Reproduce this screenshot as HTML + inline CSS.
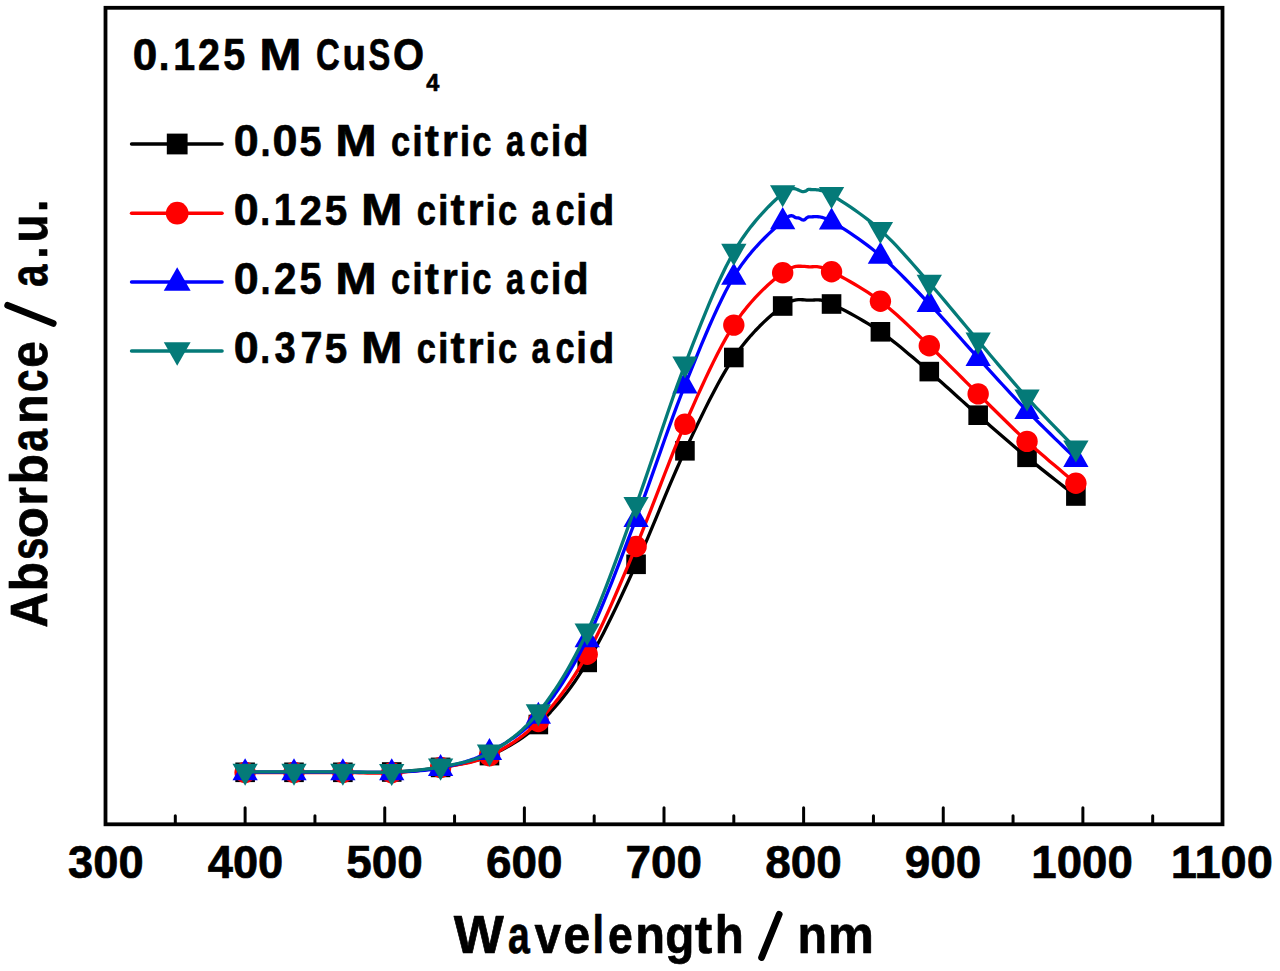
<!DOCTYPE html>
<html><head><meta charset="utf-8"><title>Absorbance spectra</title>
<style>html,body{margin:0;padding:0;background:#fff;overflow:hidden;} svg{display:block;} text{font-family:"Liberation Sans", sans-serif;font-weight:bold;fill:#000;stroke:#000;stroke-width:0.7px;stroke-linejoin:round;}</style>
</head><body>
<svg width="1280" height="971" viewBox="0 0 1280 971">
<rect width="1280" height="971" fill="#fff"/>
<path d="M245.12,772.30 L247.49,772.30 L250.44,772.30 L253.91,772.30 L257.79,772.30 L262.02,772.30 L266.51,772.30 L271.16,772.30 L275.89,772.30 L280.63,772.30 L285.28,772.30 L289.77,772.30 L293.99,772.30 L298.07,772.30 L302.14,772.30 L306.21,772.31 L310.28,772.31 L314.36,772.32 L318.43,772.32 L322.50,772.32 L326.57,772.32 L330.65,772.32 L334.72,772.32 L338.79,772.31 L342.86,772.30 L346.93,772.30 L351.01,772.32 L355.08,772.35 L359.15,772.38 L363.22,772.41 L367.30,772.44 L371.37,772.45 L375.44,772.43 L379.51,772.38 L383.59,772.30 L387.66,772.18 L391.73,772.00 L395.80,771.79 L399.88,771.57 L403.95,771.32 L408.02,771.05 L412.09,770.75 L416.17,770.42 L420.24,770.04 L424.31,769.63 L428.38,769.16 L432.46,768.63 L436.53,768.05 L440.60,767.40 L444.67,766.73 L448.74,766.07 L452.82,765.41 L456.89,764.71 L460.96,763.97 L465.03,763.16 L469.11,762.25 L473.18,761.23 L477.25,760.08 L481.32,758.77 L485.40,757.28 L489.47,755.60 L493.54,753.78 L497.61,751.89 L501.69,749.91 L505.76,747.81 L509.83,745.58 L513.90,743.19 L517.98,740.63 L522.05,737.88 L526.12,734.91 L530.19,731.70 L534.27,728.24 L538.34,724.50 L542.41,720.52 L546.48,716.36 L550.55,712.00 L554.63,707.43 L558.70,702.65 L562.77,697.64 L566.84,692.40 L570.92,686.91 L574.99,681.18 L579.06,675.19 L583.13,668.93 L587.21,662.40 L591.28,655.53 L595.35,648.31 L599.42,640.77 L603.50,632.94 L607.57,624.86 L611.64,616.56 L615.71,608.09 L619.79,599.47 L623.86,590.75 L627.93,581.96 L632.00,573.13 L636.08,564.30 L640.15,555.32 L644.22,546.04 L648.29,536.53 L652.36,526.86 L656.44,517.08 L660.51,507.25 L664.58,497.44 L668.65,487.71 L672.73,478.12 L676.80,468.73 L680.87,459.60 L684.94,450.80 L689.02,442.18 L693.09,433.60 L697.16,425.08 L701.23,416.66 L705.31,408.38 L709.38,400.28 L713.45,392.39 L717.52,384.76 L721.60,377.41 L725.67,370.40 L729.74,363.75 L733.81,357.50 L737.95,351.60 L742.20,345.97 L746.52,340.61 L750.88,335.54 L755.23,330.76 L759.56,326.28 L763.80,322.10 L767.94,318.23 L771.94,314.68 L775.75,311.45 L779.34,308.56 L782.68,306.00 L785.76,303.89 L788.63,302.28 L791.30,301.11 L793.80,300.33 L796.15,299.86 L798.39,299.64 L800.53,299.62 L802.59,299.73 L804.61,299.90 L806.60,300.08 L808.59,300.20 L810.61,300.20 L812.51,300.10 L814.18,300.00 L815.68,299.91 L817.07,299.87 L818.41,299.89 L819.77,300.00 L821.20,300.23 L822.76,300.60 L824.51,301.14 L826.52,301.87 L828.85,302.81 L831.55,304.00 L834.64,305.44 L838.08,307.11 L841.80,308.98 L845.77,311.04 L849.93,313.27 L854.24,315.65 L858.64,318.15 L863.09,320.76 L867.55,323.44 L871.95,326.19 L876.26,328.99 L880.42,331.80 L884.49,334.68 L888.56,337.69 L892.64,340.82 L896.71,344.04 L900.78,347.34 L904.85,350.71 L908.93,354.14 L913.00,357.61 L917.07,361.10 L921.14,364.61 L925.22,368.11 L929.29,371.60 L933.36,375.11 L937.43,378.66 L941.50,382.27 L945.58,385.91 L949.65,389.57 L953.72,393.26 L957.79,396.95 L961.87,400.64 L965.94,404.32 L970.01,407.98 L974.08,411.61 L978.16,415.20 L982.23,418.77 L986.30,422.34 L990.37,425.91 L994.45,429.47 L998.52,433.02 L1002.59,436.56 L1006.66,440.08 L1010.74,443.57 L1014.81,447.05 L1018.88,450.50 L1022.95,453.92 L1027.03,457.30 L1031.25,460.77 L1035.74,464.39 L1040.39,468.12 L1045.12,471.89 L1049.86,475.63 L1054.51,479.28 L1059.00,482.79 L1063.22,486.09 L1067.11,489.13 L1070.58,491.83 L1073.53,494.14 L1075.89,496.00" fill="none" stroke="#000" stroke-width="3.3" stroke-linejoin="round"/>
<rect x="235.32" y="762.50" width="19.60" height="19.60" fill="#000"/>
<rect x="284.19" y="762.50" width="19.60" height="19.60" fill="#000"/>
<rect x="333.06" y="762.50" width="19.60" height="19.60" fill="#000"/>
<rect x="381.93" y="762.20" width="19.60" height="19.60" fill="#000"/>
<rect x="430.80" y="757.60" width="19.60" height="19.60" fill="#000"/>
<rect x="479.67" y="745.80" width="19.60" height="19.60" fill="#000"/>
<rect x="528.54" y="714.70" width="19.60" height="19.60" fill="#000"/>
<rect x="577.41" y="652.60" width="19.60" height="19.60" fill="#000"/>
<rect x="626.28" y="554.50" width="19.60" height="19.60" fill="#000"/>
<rect x="675.14" y="441.00" width="19.60" height="19.60" fill="#000"/>
<rect x="724.01" y="347.70" width="19.60" height="19.60" fill="#000"/>
<rect x="772.88" y="296.20" width="19.60" height="19.60" fill="#000"/>
<rect x="821.75" y="294.20" width="19.60" height="19.60" fill="#000"/>
<rect x="870.62" y="322.00" width="19.60" height="19.60" fill="#000"/>
<rect x="919.49" y="361.80" width="19.60" height="19.60" fill="#000"/>
<rect x="968.36" y="405.40" width="19.60" height="19.60" fill="#000"/>
<rect x="1017.23" y="447.50" width="19.60" height="19.60" fill="#000"/>
<rect x="1066.09" y="486.20" width="19.60" height="19.60" fill="#000"/>
<path d="M245.12,772.50 L247.49,772.50 L250.44,772.50 L253.91,772.50 L257.79,772.50 L262.02,772.50 L266.51,772.50 L271.16,772.50 L275.89,772.50 L280.63,772.50 L285.28,772.50 L289.77,772.50 L293.99,772.50 L298.07,772.50 L302.14,772.50 L306.21,772.49 L310.28,772.49 L314.36,772.48 L318.43,772.48 L322.50,772.48 L326.57,772.48 L330.65,772.48 L334.72,772.48 L338.79,772.49 L342.86,772.50 L346.93,772.53 L351.01,772.60 L355.08,772.69 L359.15,772.79 L363.22,772.89 L367.30,772.98 L371.37,773.06 L375.44,773.10 L379.51,773.11 L383.59,773.07 L387.66,772.97 L391.73,772.80 L395.80,772.58 L399.88,772.32 L403.95,772.02 L408.02,771.69 L412.09,771.32 L416.17,770.91 L420.24,770.45 L424.31,769.96 L428.38,769.41 L432.46,768.82 L436.53,768.19 L440.60,767.50 L444.67,766.82 L448.74,766.17 L452.82,765.53 L456.89,764.88 L460.96,764.18 L465.03,763.41 L469.11,762.53 L473.18,761.53 L477.25,760.38 L481.32,759.04 L485.40,757.49 L489.47,755.70 L493.54,753.74 L497.61,751.68 L501.69,749.50 L505.76,747.18 L509.83,744.71 L513.90,742.06 L517.98,739.22 L522.05,736.17 L526.12,732.90 L530.19,729.37 L534.27,725.58 L538.34,721.50 L542.41,717.18 L546.48,712.68 L550.55,707.97 L554.63,703.05 L558.70,697.90 L562.77,692.50 L566.84,686.85 L570.92,680.93 L574.99,674.73 L579.06,668.23 L583.13,661.43 L587.21,654.30 L591.28,646.78 L595.35,638.85 L599.42,630.54 L603.50,621.91 L607.57,613.00 L611.64,603.84 L615.71,594.50 L619.79,585.01 L623.86,575.42 L627.93,565.78 L632.00,556.12 L636.08,546.50 L640.15,536.74 L644.22,526.69 L648.29,516.40 L652.36,505.95 L656.44,495.39 L660.51,484.81 L664.58,474.25 L668.65,463.79 L672.73,453.48 L676.80,443.41 L680.87,433.63 L684.94,424.20 L689.02,414.98 L693.09,405.80 L697.16,396.70 L701.23,387.71 L705.31,378.89 L709.38,370.27 L713.45,361.90 L717.52,353.81 L721.60,346.04 L725.67,338.64 L729.74,331.65 L733.81,325.10 L737.95,318.96 L742.20,313.14 L746.52,307.65 L750.88,302.49 L755.23,297.65 L759.56,293.13 L763.80,288.94 L767.94,285.07 L771.94,281.52 L775.75,278.30 L779.34,275.39 L782.68,272.80 L785.76,270.64 L788.63,268.99 L791.30,267.79 L793.80,266.97 L796.15,266.47 L798.39,266.23 L800.53,266.18 L802.59,266.28 L804.61,266.45 L806.60,266.63 L808.59,266.77 L810.61,266.80 L812.51,266.75 L814.18,266.70 L815.68,266.68 L817.07,266.71 L818.41,266.82 L819.77,267.03 L821.20,267.36 L822.76,267.84 L824.51,268.49 L826.52,269.33 L828.85,270.40 L831.55,271.70 L834.64,273.25 L838.08,275.02 L841.80,276.99 L845.77,279.16 L849.93,281.49 L854.24,283.97 L858.64,286.60 L863.09,289.34 L867.55,292.19 L871.95,295.13 L876.26,298.14 L880.42,301.20 L884.49,304.37 L888.56,307.71 L892.64,311.18 L896.71,314.79 L900.78,318.49 L904.85,322.28 L908.93,326.14 L913.00,330.04 L917.07,333.96 L921.14,337.90 L925.22,341.81 L929.29,345.70 L933.36,349.59 L937.43,353.53 L941.50,357.51 L945.58,361.52 L949.65,365.56 L953.72,369.61 L957.79,373.68 L961.87,377.75 L965.94,381.81 L970.01,385.86 L974.08,389.90 L978.16,393.90 L982.23,397.90 L986.30,401.92 L990.37,405.96 L994.45,409.99 L998.52,414.02 L1002.59,418.04 L1006.66,422.04 L1010.74,426.01 L1014.81,429.94 L1018.88,433.82 L1022.95,437.64 L1027.03,441.40 L1031.25,445.22 L1035.74,449.19 L1040.39,453.25 L1045.12,457.33 L1049.86,461.38 L1054.51,465.32 L1059.00,469.10 L1063.22,472.64 L1067.11,475.90 L1070.58,478.81 L1073.53,481.29 L1075.89,483.30" fill="none" stroke="#ff0000" stroke-width="3.3" stroke-linejoin="round"/>
<circle cx="245.12" cy="772.50" r="10.70" fill="#ff0000"/>
<circle cx="293.99" cy="772.50" r="10.70" fill="#ff0000"/>
<circle cx="342.86" cy="772.50" r="10.70" fill="#ff0000"/>
<circle cx="391.73" cy="772.80" r="10.70" fill="#ff0000"/>
<circle cx="440.60" cy="767.50" r="10.70" fill="#ff0000"/>
<circle cx="489.47" cy="755.70" r="10.70" fill="#ff0000"/>
<circle cx="538.34" cy="721.50" r="10.70" fill="#ff0000"/>
<circle cx="587.21" cy="654.30" r="10.70" fill="#ff0000"/>
<circle cx="636.08" cy="546.50" r="10.70" fill="#ff0000"/>
<circle cx="684.94" cy="424.20" r="10.70" fill="#ff0000"/>
<circle cx="733.81" cy="325.10" r="10.70" fill="#ff0000"/>
<circle cx="782.68" cy="272.80" r="10.70" fill="#ff0000"/>
<circle cx="831.55" cy="271.70" r="10.70" fill="#ff0000"/>
<circle cx="880.42" cy="301.20" r="10.70" fill="#ff0000"/>
<circle cx="929.29" cy="345.70" r="10.70" fill="#ff0000"/>
<circle cx="978.16" cy="393.90" r="10.70" fill="#ff0000"/>
<circle cx="1027.03" cy="441.40" r="10.70" fill="#ff0000"/>
<circle cx="1075.89" cy="483.30" r="10.70" fill="#ff0000"/>
<path d="M245.12,772.10 L247.49,772.10 L250.44,772.10 L253.91,772.10 L257.79,772.10 L262.02,772.10 L266.51,772.10 L271.16,772.10 L275.89,772.10 L280.63,772.10 L285.28,772.10 L289.77,772.10 L293.99,772.10 L298.07,772.10 L302.14,772.10 L306.21,772.10 L310.28,772.10 L314.36,772.10 L318.43,772.10 L322.50,772.10 L326.57,772.10 L330.65,772.10 L334.72,772.10 L338.79,772.10 L342.86,772.10 L346.93,772.11 L351.01,772.15 L355.08,772.20 L359.15,772.26 L363.22,772.31 L367.30,772.36 L371.37,772.40 L375.44,772.41 L379.51,772.40 L383.59,772.34 L387.66,772.25 L391.73,772.10 L395.80,771.93 L399.88,771.78 L403.95,771.62 L408.02,771.45 L412.09,771.25 L416.17,771.00 L420.24,770.70 L424.31,770.33 L428.38,769.88 L432.46,769.33 L436.53,768.68 L440.60,767.90 L444.67,767.04 L448.74,766.15 L452.82,765.21 L456.89,764.19 L460.96,763.10 L465.03,761.91 L469.11,760.60 L473.18,759.17 L477.25,757.60 L481.32,755.88 L485.40,753.98 L489.47,751.90 L493.54,749.71 L497.61,747.49 L501.69,745.20 L505.76,742.80 L509.83,740.25 L513.90,737.54 L517.98,734.61 L522.05,731.44 L526.12,727.98 L530.19,724.22 L534.27,720.10 L538.34,715.60 L542.41,710.77 L546.48,705.67 L550.55,700.30 L554.63,694.66 L558.70,688.74 L562.77,682.54 L566.84,676.04 L570.92,669.25 L574.99,662.15 L579.06,654.75 L583.13,647.03 L587.21,639.00 L591.28,630.56 L595.35,621.66 L599.42,612.35 L603.50,602.69 L607.57,592.73 L611.64,582.52 L615.71,572.11 L619.79,561.55 L623.86,550.90 L627.93,540.21 L632.00,529.52 L636.08,518.90 L640.15,508.15 L644.22,497.11 L648.29,485.84 L652.36,474.41 L656.44,462.88 L660.51,451.33 L664.58,439.82 L668.65,428.41 L672.73,417.18 L676.80,406.19 L680.87,395.51 L684.94,385.20 L689.02,375.10 L693.09,365.03 L697.16,355.04 L701.23,345.18 L705.31,335.49 L709.38,326.02 L713.45,316.82 L717.52,307.94 L721.60,299.44 L725.67,291.34 L729.74,283.71 L733.81,276.60 L738.00,269.94 L742.36,263.66 L746.85,257.75 L751.39,252.20 L755.94,247.02 L760.43,242.21 L764.79,237.77 L768.98,233.69 L772.92,229.97 L776.56,226.62 L779.83,223.63 L782.68,221.00 L785.09,218.88 L787.11,217.37 L788.79,216.39 L790.18,215.85 L791.33,215.68 L792.28,215.79 L793.09,216.10 L793.80,216.53 L794.46,216.99 L795.12,217.41 L795.84,217.71 L796.64,217.80 L797.47,217.81 L798.21,217.92 L798.88,218.10 L799.49,218.33 L800.05,218.61 L800.57,218.90 L801.07,219.19 L801.56,219.47 L802.04,219.70 L802.54,219.88 L803.07,219.99 L803.62,220.00 L804.16,219.90 L804.63,219.69 L805.04,219.40 L805.43,219.04 L805.83,218.65 L806.24,218.25 L806.71,217.85 L807.24,217.49 L807.88,217.18 L808.63,216.94 L809.54,216.81 L810.61,216.80 L811.77,216.82 L812.97,216.77 L814.21,216.71 L815.52,216.66 L816.93,216.66 L818.46,216.76 L820.14,216.99 L821.98,217.39 L824.02,217.99 L826.28,218.83 L828.78,219.96 L831.55,221.40 L834.64,223.17 L838.08,225.22 L841.80,227.54 L845.77,230.09 L849.93,232.84 L854.24,235.78 L858.64,238.86 L863.09,242.07 L867.55,245.37 L871.95,248.75 L876.26,252.17 L880.42,255.60 L884.49,259.11 L888.56,262.75 L892.64,266.53 L896.71,270.41 L900.78,274.39 L904.85,278.46 L908.93,282.59 L913.00,286.78 L917.07,291.01 L921.14,295.26 L925.22,299.53 L929.29,303.80 L933.36,308.11 L937.43,312.49 L941.50,316.94 L945.58,321.44 L949.65,325.98 L953.72,330.56 L957.79,335.14 L961.87,339.74 L965.94,344.32 L970.01,348.88 L974.08,353.41 L978.16,357.90 L982.23,362.37 L986.30,366.84 L990.37,371.33 L994.45,375.81 L998.52,380.28 L1002.59,384.74 L1006.66,389.17 L1010.74,393.58 L1014.81,397.95 L1018.88,402.29 L1022.95,406.57 L1027.03,410.80 L1031.25,415.12 L1035.74,419.63 L1040.39,424.25 L1045.12,428.91 L1049.86,433.54 L1054.51,438.06 L1059.00,442.39 L1063.22,446.47 L1067.11,450.21 L1070.58,453.55 L1073.53,456.40 L1075.89,458.70" fill="none" stroke="#0000ff" stroke-width="3.3" stroke-linejoin="round"/>
<path d="M245.12,758.18 L257.77,780.28 L232.47,780.28Z" fill="#0000ff"/>
<path d="M293.99,758.18 L306.64,780.28 L281.34,780.28Z" fill="#0000ff"/>
<path d="M342.86,758.18 L355.51,780.28 L330.21,780.28Z" fill="#0000ff"/>
<path d="M391.73,758.18 L404.38,780.28 L379.08,780.28Z" fill="#0000ff"/>
<path d="M440.60,753.98 L453.25,776.08 L427.95,776.08Z" fill="#0000ff"/>
<path d="M489.47,737.98 L502.12,760.08 L476.82,760.08Z" fill="#0000ff"/>
<path d="M538.34,701.68 L550.99,723.78 L525.69,723.78Z" fill="#0000ff"/>
<path d="M587.21,625.08 L599.86,647.18 L574.56,647.18Z" fill="#0000ff"/>
<path d="M636.08,504.98 L648.73,527.08 L623.43,527.08Z" fill="#0000ff"/>
<path d="M684.94,371.28 L697.59,393.38 L672.29,393.38Z" fill="#0000ff"/>
<path d="M733.81,262.68 L746.46,284.78 L721.16,284.78Z" fill="#0000ff"/>
<path d="M782.68,207.08 L795.33,229.18 L770.03,229.18Z" fill="#0000ff"/>
<path d="M831.55,207.48 L844.20,229.58 L818.90,229.58Z" fill="#0000ff"/>
<path d="M880.42,241.68 L893.07,263.78 L867.77,263.78Z" fill="#0000ff"/>
<path d="M929.29,289.88 L941.94,311.98 L916.64,311.98Z" fill="#0000ff"/>
<path d="M978.16,343.98 L990.81,366.08 L965.51,366.08Z" fill="#0000ff"/>
<path d="M1027.03,396.88 L1039.68,418.98 L1014.38,418.98Z" fill="#0000ff"/>
<path d="M1075.89,444.78 L1088.54,466.88 L1063.24,466.88Z" fill="#0000ff"/>
<path d="M245.12,771.90 L247.49,771.90 L250.44,771.90 L253.91,771.90 L257.79,771.90 L262.02,771.90 L266.51,771.90 L271.16,771.90 L275.89,771.90 L280.63,771.90 L285.28,771.90 L289.77,771.90 L293.99,771.90 L298.07,771.90 L302.14,771.90 L306.21,771.90 L310.28,771.89 L314.36,771.89 L318.43,771.89 L322.50,771.89 L326.57,771.89 L330.65,771.89 L334.72,771.89 L338.79,771.89 L342.86,771.90 L346.93,771.93 L351.01,771.99 L355.08,772.06 L359.15,772.16 L363.22,772.25 L367.30,772.33 L371.37,772.40 L375.44,772.43 L379.51,772.43 L383.59,772.38 L387.66,772.28 L391.73,772.10 L395.80,771.88 L399.88,771.64 L403.95,771.37 L408.02,771.06 L412.09,770.72 L416.17,770.34 L420.24,769.90 L424.31,769.41 L428.38,768.87 L432.46,768.25 L436.53,767.56 L440.60,766.80 L444.67,766.02 L448.74,765.27 L452.82,764.53 L456.89,763.75 L460.96,762.92 L465.03,761.99 L469.11,760.94 L473.18,759.74 L477.25,758.35 L481.32,756.76 L485.40,754.92 L489.47,752.80 L493.54,750.49 L497.61,748.07 L501.69,745.52 L505.76,742.81 L509.83,739.92 L513.90,736.82 L517.98,733.49 L522.05,729.90 L526.12,726.03 L530.19,721.86 L534.27,717.36 L538.34,712.50 L542.41,707.34 L546.48,701.92 L550.55,696.24 L554.63,690.30 L558.70,684.07 L562.77,677.55 L566.84,670.73 L570.92,663.60 L574.99,656.16 L579.06,648.38 L583.13,640.26 L587.21,631.80 L591.28,622.90 L595.35,613.50 L599.42,603.68 L603.50,593.48 L607.57,582.96 L611.64,572.18 L615.71,561.19 L619.79,550.05 L623.86,538.82 L627.93,527.54 L632.00,516.28 L636.08,505.10 L640.15,493.79 L644.22,482.17 L648.29,470.31 L652.36,458.29 L656.44,446.17 L660.51,434.03 L664.58,421.93 L668.65,409.96 L672.73,398.17 L676.80,386.66 L680.87,375.47 L684.94,364.70 L689.02,354.17 L693.09,343.69 L697.16,333.31 L701.23,323.08 L705.31,313.04 L709.38,303.24 L713.45,293.72 L717.52,284.53 L721.60,275.72 L725.67,267.33 L729.74,259.41 L733.81,252.00 L737.97,245.04 L742.28,238.45 L746.68,232.21 L751.14,226.36 L755.59,220.87 L759.99,215.77 L764.30,211.05 L768.46,206.72 L772.43,202.79 L776.15,199.25 L779.59,196.12 L782.68,193.40 L785.45,191.26 L787.95,189.82 L790.21,188.96 L792.25,188.60 L794.09,188.64 L795.77,188.97 L797.30,189.50 L798.71,190.12 L800.03,190.74 L801.27,191.26 L802.46,191.58 L803.62,191.60 L804.65,191.41 L805.43,191.18 L806.02,190.92 L806.47,190.64 L806.82,190.36 L807.12,190.09 L807.41,189.84 L807.76,189.64 L808.21,189.49 L808.80,189.41 L809.58,189.41 L810.61,189.50 L811.77,189.60 L812.97,189.65 L814.21,189.67 L815.52,189.71 L816.93,189.80 L818.46,189.98 L820.14,190.29 L821.98,190.77 L824.02,191.45 L826.28,192.38 L828.78,193.58 L831.55,195.10 L834.64,196.93 L838.08,199.03 L841.80,201.37 L845.77,203.93 L849.93,206.70 L854.24,209.65 L858.64,212.77 L863.09,216.03 L867.55,219.41 L871.95,222.90 L876.26,226.47 L880.42,230.10 L884.49,233.86 L888.56,237.81 L892.64,241.93 L896.71,246.19 L900.78,250.58 L904.85,255.07 L908.93,259.64 L913.00,264.26 L917.07,268.92 L921.14,273.60 L925.22,278.26 L929.29,282.90 L933.36,287.55 L937.43,292.27 L941.50,297.04 L945.58,301.86 L949.65,306.72 L953.72,311.60 L957.79,316.49 L961.87,321.39 L965.94,326.28 L970.01,331.15 L974.08,336.00 L978.16,340.80 L982.23,345.59 L986.30,350.40 L990.37,355.21 L994.45,360.03 L998.52,364.84 L1002.59,369.63 L1006.66,374.40 L1010.74,379.14 L1014.81,383.83 L1018.88,388.48 L1022.95,393.07 L1027.03,397.60 L1031.25,402.22 L1035.74,407.03 L1040.39,411.95 L1045.12,416.92 L1049.86,421.84 L1054.51,426.65 L1059.00,431.26 L1063.22,435.59 L1067.11,439.57 L1070.58,443.12 L1073.53,446.15 L1075.89,448.60" fill="none" stroke="#047a78" stroke-width="3.3" stroke-linejoin="round"/>
<path d="M245.12,785.82 L257.77,763.72 L232.47,763.72Z" fill="#047a78"/>
<path d="M293.99,785.82 L306.64,763.72 L281.34,763.72Z" fill="#047a78"/>
<path d="M342.86,785.82 L355.51,763.72 L330.21,763.72Z" fill="#047a78"/>
<path d="M391.73,786.02 L404.38,763.92 L379.08,763.92Z" fill="#047a78"/>
<path d="M440.60,780.72 L453.25,758.62 L427.95,758.62Z" fill="#047a78"/>
<path d="M489.47,766.72 L502.12,744.62 L476.82,744.62Z" fill="#047a78"/>
<path d="M538.34,726.42 L550.99,704.32 L525.69,704.32Z" fill="#047a78"/>
<path d="M587.21,645.72 L599.86,623.62 L574.56,623.62Z" fill="#047a78"/>
<path d="M636.08,519.02 L648.73,496.92 L623.43,496.92Z" fill="#047a78"/>
<path d="M684.94,378.62 L697.59,356.52 L672.29,356.52Z" fill="#047a78"/>
<path d="M733.81,265.92 L746.46,243.82 L721.16,243.82Z" fill="#047a78"/>
<path d="M782.68,207.32 L795.33,185.22 L770.03,185.22Z" fill="#047a78"/>
<path d="M831.55,209.02 L844.20,186.92 L818.90,186.92Z" fill="#047a78"/>
<path d="M880.42,244.02 L893.07,221.92 L867.77,221.92Z" fill="#047a78"/>
<path d="M929.29,296.82 L941.94,274.72 L916.64,274.72Z" fill="#047a78"/>
<path d="M978.16,354.72 L990.81,332.62 L965.51,332.62Z" fill="#047a78"/>
<path d="M1027.03,411.52 L1039.68,389.42 L1014.38,389.42Z" fill="#047a78"/>
<path d="M1075.89,462.52 L1088.54,440.42 L1063.24,440.42Z" fill="#047a78"/>
<rect x="105.5" y="7.8" width="1117.0" height="816.5" fill="none" stroke="#000" stroke-width="3.8"/>
<line x1="175.31" y1="824.3" x2="175.31" y2="815.7" stroke="#000" stroke-width="3" stroke-linecap="round"/>
<line x1="245.12" y1="824.3" x2="245.12" y2="807.7" stroke="#000" stroke-width="3" stroke-linecap="round"/>
<line x1="314.94" y1="824.3" x2="314.94" y2="815.7" stroke="#000" stroke-width="3" stroke-linecap="round"/>
<line x1="384.75" y1="824.3" x2="384.75" y2="807.7" stroke="#000" stroke-width="3" stroke-linecap="round"/>
<line x1="454.56" y1="824.3" x2="454.56" y2="815.7" stroke="#000" stroke-width="3" stroke-linecap="round"/>
<line x1="524.38" y1="824.3" x2="524.38" y2="807.7" stroke="#000" stroke-width="3" stroke-linecap="round"/>
<line x1="594.19" y1="824.3" x2="594.19" y2="815.7" stroke="#000" stroke-width="3" stroke-linecap="round"/>
<line x1="664.00" y1="824.3" x2="664.00" y2="807.7" stroke="#000" stroke-width="3" stroke-linecap="round"/>
<line x1="733.81" y1="824.3" x2="733.81" y2="815.7" stroke="#000" stroke-width="3" stroke-linecap="round"/>
<line x1="803.62" y1="824.3" x2="803.62" y2="807.7" stroke="#000" stroke-width="3" stroke-linecap="round"/>
<line x1="873.44" y1="824.3" x2="873.44" y2="815.7" stroke="#000" stroke-width="3" stroke-linecap="round"/>
<line x1="943.25" y1="824.3" x2="943.25" y2="807.7" stroke="#000" stroke-width="3" stroke-linecap="round"/>
<line x1="1013.06" y1="824.3" x2="1013.06" y2="815.7" stroke="#000" stroke-width="3" stroke-linecap="round"/>
<line x1="1082.88" y1="824.3" x2="1082.88" y2="807.7" stroke="#000" stroke-width="3" stroke-linecap="round"/>
<line x1="1152.69" y1="824.3" x2="1152.69" y2="815.7" stroke="#000" stroke-width="3" stroke-linecap="round"/>
<line x1="131.6" y1="144.0" x2="222.0" y2="144.0" stroke="#000" stroke-width="3.6" stroke-linecap="round"/>
<rect x="166.81" y="133.61" width="20.78" height="20.78" fill="#000"/>
<line x1="131.6" y1="213.2" x2="222.0" y2="213.2" stroke="#ff0000" stroke-width="3.6" stroke-linecap="round"/>
<circle cx="177.20" cy="213.20" r="11.34" fill="#ff0000"/>
<line x1="131.6" y1="282.0" x2="222.0" y2="282.0" stroke="#0000ff" stroke-width="3.6" stroke-linecap="round"/>
<path d="M177.20,267.24 L190.61,290.67 L163.79,290.67Z" fill="#0000ff"/>
<line x1="131.6" y1="351.0" x2="222.0" y2="351.0" stroke="#047a78" stroke-width="3.6" stroke-linecap="round"/>
<path d="M177.20,365.76 L190.61,342.33 L163.79,342.33Z" fill="#047a78"/>
<text transform="matrix(0.9583,0,0,0.9735,132.64,70.43)" font-size="46">0</text>
<text transform="matrix(0.8333,0,0,0.9735,158.63,70.43)" font-size="46">.</text>
<text transform="matrix(0.8565,0,0,0.9735,173.19,70.43)" font-size="46">1</text>
<text transform="matrix(0.8583,0,0,0.9735,197.94,70.43)" font-size="46">2</text>
<text transform="matrix(0.8583,0,0,0.9735,223.24,70.43)" font-size="46">5</text>
<text transform="matrix(1.1029,0,0,0.9735,259.19,70.43)" font-size="46">M</text>
<text transform="matrix(0.7156,0,0,0.9735,315.88,70.43)" font-size="46">C</text>
<text transform="matrix(0.8417,0,0,0.9735,342.52,70.43)" font-size="46">u</text>
<text transform="matrix(0.7103,0,0,0.9735,368.39,70.43)" font-size="46">S</text>
<text transform="matrix(0.8676,0,0,0.9735,393.03,70.43)" font-size="46">O</text>
<text transform="matrix(0.9750,0,0,0.9444,233.72,156.06)" font-size="46">0</text>
<text transform="matrix(0.7889,0,0,0.9444,260.42,156.06)" font-size="46">.</text>
<text transform="matrix(0.9750,0,0,0.9444,272.42,156.06)" font-size="46">0</text>
<text transform="matrix(0.8625,0,0,0.9444,299.44,156.06)" font-size="46">5</text>
<text transform="matrix(1.0829,0,0,0.9444,335.23,156.06)" font-size="46">M</text>
<text transform="matrix(0.7500,0,0,0.9444,390.95,156.06)" font-size="46">c</text>
<text transform="matrix(0.8222,0,0,0.9444,412.36,156.06)" font-size="46">i</text>
<text transform="matrix(0.9250,0,0,0.9444,424.70,156.06)" font-size="46">t</text>
<text transform="matrix(0.8812,0,0,0.9444,442.04,156.06)" font-size="46">r</text>
<text transform="matrix(0.8222,0,0,0.9444,459.76,156.06)" font-size="46">i</text>
<text transform="matrix(0.7500,0,0,0.9444,472.35,156.06)" font-size="46">c</text>
<text transform="matrix(0.7074,0,0,0.9444,505.90,156.06)" font-size="46">a</text>
<text transform="matrix(0.7458,0,0,0.9444,529.75,156.06)" font-size="46">c</text>
<text transform="matrix(0.8333,0,0,0.9444,550.63,156.06)" font-size="46">i</text>
<text transform="matrix(0.9040,0,0,0.9444,563.20,156.06)" font-size="46">d</text>
<text transform="matrix(0.9750,0,0,0.9444,233.72,225.06)" font-size="46">0</text>
<text transform="matrix(0.7778,0,0,0.9444,260.34,225.06)" font-size="46">.</text>
<text transform="matrix(0.8565,0,0,0.9444,273.79,225.06)" font-size="46">1</text>
<text transform="matrix(0.8792,0,0,0.9444,299.42,225.06)" font-size="46">2</text>
<text transform="matrix(0.8792,0,0,0.9444,324.72,225.06)" font-size="46">5</text>
<text transform="matrix(1.0829,0,0,0.9444,360.93,225.06)" font-size="46">M</text>
<text transform="matrix(0.7500,0,0,0.9444,416.65,225.06)" font-size="46">c</text>
<text transform="matrix(0.8222,0,0,0.9444,438.06,225.06)" font-size="46">i</text>
<text transform="matrix(0.9250,0,0,0.9444,450.40,225.06)" font-size="46">t</text>
<text transform="matrix(0.8812,0,0,0.9444,467.74,225.06)" font-size="46">r</text>
<text transform="matrix(0.8222,0,0,0.9444,485.46,225.06)" font-size="46">i</text>
<text transform="matrix(0.7500,0,0,0.9444,498.05,225.06)" font-size="46">c</text>
<text transform="matrix(0.7074,0,0,0.9444,531.60,225.06)" font-size="46">a</text>
<text transform="matrix(0.7458,0,0,0.9444,555.45,225.06)" font-size="46">c</text>
<text transform="matrix(0.8333,0,0,0.9444,576.33,225.06)" font-size="46">i</text>
<text transform="matrix(0.9040,0,0,0.9444,588.90,225.06)" font-size="46">d</text>
<text transform="matrix(0.9750,0,0,0.9528,233.72,293.55)" font-size="46">0</text>
<text transform="matrix(0.7889,0,0,0.9528,260.42,293.55)" font-size="46">.</text>
<text transform="matrix(0.8792,0,0,0.9528,274.12,293.55)" font-size="46">2</text>
<text transform="matrix(0.8625,0,0,0.9528,299.44,293.55)" font-size="46">5</text>
<text transform="matrix(1.0829,0,0,0.9528,335.23,293.55)" font-size="46">M</text>
<text transform="matrix(0.7500,0,0,0.9528,390.95,293.55)" font-size="46">c</text>
<text transform="matrix(0.8222,0,0,0.9528,412.36,293.55)" font-size="46">i</text>
<text transform="matrix(0.9250,0,0,0.9528,424.70,293.55)" font-size="46">t</text>
<text transform="matrix(0.8812,0,0,0.9528,442.04,293.55)" font-size="46">r</text>
<text transform="matrix(0.8222,0,0,0.9528,459.76,293.55)" font-size="46">i</text>
<text transform="matrix(0.7500,0,0,0.9528,472.35,293.55)" font-size="46">c</text>
<text transform="matrix(0.7074,0,0,0.9528,505.90,293.55)" font-size="46">a</text>
<text transform="matrix(0.7458,0,0,0.9528,529.75,293.55)" font-size="46">c</text>
<text transform="matrix(0.8333,0,0,0.9528,550.63,293.55)" font-size="46">i</text>
<text transform="matrix(0.9040,0,0,0.9528,563.20,293.55)" font-size="46">d</text>
<text transform="matrix(0.9750,0,0,0.9444,233.72,362.96)" font-size="46">0</text>
<text transform="matrix(0.7778,0,0,0.9444,260.34,362.96)" font-size="46">.</text>
<text transform="matrix(0.8280,0,0,0.9444,274.50,362.96)" font-size="46">3</text>
<text transform="matrix(0.8604,0,0,0.9444,300.39,362.96)" font-size="46">7</text>
<text transform="matrix(0.8792,0,0,0.9444,324.72,362.96)" font-size="46">5</text>
<text transform="matrix(1.0829,0,0,0.9444,360.93,362.96)" font-size="46">M</text>
<text transform="matrix(0.7500,0,0,0.9444,416.65,362.96)" font-size="46">c</text>
<text transform="matrix(0.8222,0,0,0.9444,438.06,362.96)" font-size="46">i</text>
<text transform="matrix(0.9250,0,0,0.9444,450.40,362.96)" font-size="46">t</text>
<text transform="matrix(0.8812,0,0,0.9444,467.74,362.96)" font-size="46">r</text>
<text transform="matrix(0.8222,0,0,0.9444,485.46,362.96)" font-size="46">i</text>
<text transform="matrix(0.7500,0,0,0.9444,498.05,362.96)" font-size="46">c</text>
<text transform="matrix(0.7074,0,0,0.9444,531.60,362.96)" font-size="46">a</text>
<text transform="matrix(0.7458,0,0,0.9444,555.45,362.96)" font-size="46">c</text>
<text transform="matrix(0.8333,0,0,0.9444,576.33,362.96)" font-size="46">i</text>
<text transform="matrix(0.9040,0,0,0.9444,588.90,362.96)" font-size="46">d</text>
<text transform="matrix(1.0204,0,0,1.0205,453.75,952.50)" font-size="52">W</text>
<text transform="matrix(0.7534,0,0,1.0205,508.00,952.50)" font-size="52">a</text>
<text transform="matrix(0.9259,0,0,1.0205,534.40,952.50)" font-size="52">v</text>
<text transform="matrix(0.9259,0,0,1.0205,563.47,952.50)" font-size="52">e</text>
<text transform="matrix(0.8000,0,0,1.0205,592.60,952.50)" font-size="52">l</text>
<text transform="matrix(0.8574,0,0,1.0205,607.89,952.50)" font-size="52">e</text>
<text transform="matrix(0.9385,0,0,1.0205,635.28,952.50)" font-size="52">n</text>
<text transform="matrix(0.9161,0,0,1.0205,665.33,952.50)" font-size="52">g</text>
<text transform="matrix(0.9941,0,0,1.0205,695.00,952.50)" font-size="52">t</text>
<text transform="matrix(0.9135,0,0,1.0205,714.76,952.50)" font-size="52">h</text>
<text transform="matrix(0.9308,0,0,1.0205,797.51,952.50)" font-size="52">n</text>
<text transform="matrix(1.0000,0,0,1.0205,827.80,952.50)" font-size="52">m</text>
<text transform="matrix(0.8687,0,0,0.9095,426.30,91.09)" font-size="27">4</text>
<text transform="matrix(0.9842,0,0,0.9853,68.10,878.11)" font-size="46">300</text>
<text transform="matrix(0.9842,0,0,0.9853,207.72,878.11)" font-size="46">400</text>
<text transform="matrix(0.9973,0,0,0.9853,346.35,878.11)" font-size="46">500</text>
<text transform="matrix(0.9973,0,0,0.9853,485.98,878.11)" font-size="46">600</text>
<text transform="matrix(0.9973,0,0,0.9853,625.60,878.11)" font-size="46">700</text>
<text transform="matrix(0.9973,0,0,0.9853,765.23,878.11)" font-size="46">800</text>
<text transform="matrix(0.9973,0,0,0.9853,904.85,878.11)" font-size="46">900</text>
<text transform="matrix(0.9920,0,0,0.9853,1031.29,878.11)" font-size="46">1000</text>
<text transform="matrix(1.0227,0,0,0.9853,1170.85,878.11)" font-size="46">1100</text>
<text transform="matrix(0,-0.9444,0.9975,0,46.90,627.64)" font-size="52">A</text>
<text transform="matrix(0,-0.9185,0.9975,0,46.90,591.36)" font-size="52">b</text>
<text transform="matrix(0,-0.7769,0.9975,0,46.90,559.98)" font-size="52">s</text>
<text transform="matrix(0,-0.9793,0.9975,0,46.90,538.28)" font-size="52">o</text>
<text transform="matrix(0,-0.9059,0.9975,0,46.90,505.42)" font-size="52">r</text>
<text transform="matrix(0,-0.9593,0.9975,0,46.90,484.58)" font-size="52">b</text>
<text transform="matrix(0,-0.7897,0.9975,0,46.90,451.69)" font-size="52">a</text>
<text transform="matrix(0,-0.9385,0.9975,0,46.90,424.02)" font-size="52">n</text>
<text transform="matrix(0,-0.7778,0.9975,0,46.90,391.98)" font-size="52">c</text>
<text transform="matrix(0,-0.9222,0.9975,0,46.90,367.72)" font-size="52">e</text>
<text transform="matrix(0,-0.7793,0.9975,0,46.90,286.88)" font-size="52">a</text>
<text transform="matrix(0,-0.8556,0.9975,0,46.90,258.87)" font-size="52">.</text>
<text transform="matrix(0,-0.8778,0.9975,0,46.90,242.56)" font-size="52">u</text>
<text transform="matrix(0,-0.8556,0.9975,0,46.90,211.97)" font-size="52">.</text>
<line x1="779.2" y1="914.3" x2="761.6" y2="957.5" stroke="#000" stroke-width="6.8" stroke-linecap="round"/>
<line x1="7.7" y1="305.3" x2="53.2" y2="323.4" stroke="#000" stroke-width="6.8" stroke-linecap="round"/>
</svg>
</body></html>
